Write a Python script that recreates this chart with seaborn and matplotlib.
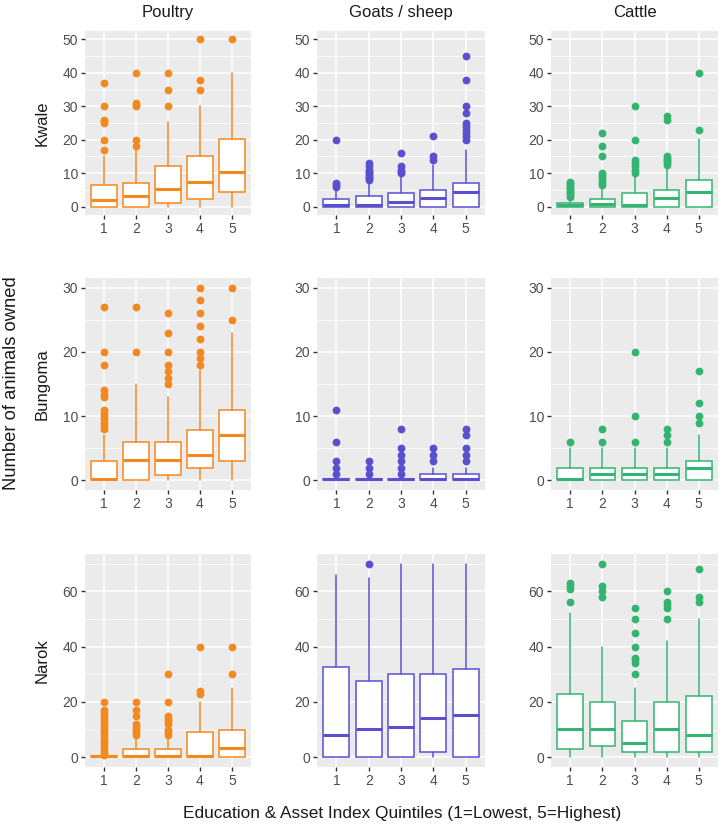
import matplotlib
matplotlib.use("Agg")
import matplotlib.pyplot as plt
import seaborn as sns

# categories
quintiles = [1, 2, 3, 4, 5]
regions = ["Kwale", "Bungoma", "Narok"]
animals = ["Poultry", "Goats / sheep", "Cattle"]
colors = ["#F4891E", "#5A4FCF", "#33B571"]

# box stats per quintile: (whisker low, q1, median, q3, whisker high)
kwale_poultry = [(0, 0, 2.1, 6.4, 15), (0, 0, 3.3, 7.2, 17), (0, 1, 5.4, 12.1, 25.4),
                 (0, 2.2, 7.5, 15.1, 30), (0, 4.4, 10.4, 20.3, 40)]
kwale_poultry_out = [[37, 30, 26, 25.5, 25, 20, 17], [40, 31, 30.5, 30, 20, 18],
                     [40, 35, 30], [50, 38, 35], [50]]
kwale_goats = [(0, 0, 0.4, 2.2, 5), (0, 0, 0.4, 3.2, 7), (0, 0, 1.4, 4, 9),
               (0, 0, 2.5, 5.1, 12.4), (0, 0, 4.5, 7.2, 17)]
kwale_goats_out = [[20, 7, 6.5, 6], [13, 12, 11, 10.5, 10, 9.5, 9, 8.5, 8],
                   [16, 12, 11, 10.5, 10], [21, 15, 14],
                   [45, 38, 30, 28, 25, 24, 23, 22, 21, 20]]
kwale_cattle = [(0, 0, 0.5, 1, 2.4), (0, 0, 0.9, 2.2, 6), (0, 0, 0.5, 4, 9),
                (0, 0, 2.5, 5.1, 11.6), (0, 0, 4.5, 8, 20.3)]
kwale_cattle_out = [[7.5, 7, 6.5, 6, 5.5, 5, 4.5, 4, 3.5, 3],
                    [22, 18, 15, 10, 9.5, 9, 8, 7, 6.5],
                    [30, 20, 14, 13, 12, 11, 10],
                    [27, 26, 15, 14.5, 14, 13.5, 13, 12.5], [40, 23]]

bungoma_poultry = [(0, 0, 0.15, 3, 7), (0, 0, 3.1, 6, 15), (0, 0.9, 3.1, 6, 13),
                   (0, 2, 4, 7.9, 17.2), (0, 3, 7, 10.9, 23)]
bungoma_poultry_out = [[27, 20, 18, 14, 13.5, 13, 11, 10.5, 10, 9.5, 9, 8.5, 8], [27, 20],
                       [26, 23, 20, 18, 17, 16, 15], [30, 28, 26, 24, 22, 20, 19, 18],
                       [30, 25]]
bungoma_goats = [(0, 0, 0.15, 0.15, 0), (0, 0, 0.15, 0.15, 0), (0, 0, 0.15, 0.15, 0),
                 (0, 0, 0.15, 1, 2), (0, 0, 0.15, 1, 2)]
bungoma_goats_out = [[11, 6, 3, 2, 1], [3, 2, 1], [8, 5, 4, 3, 2, 1],
                     [5, 4, 3], [8, 7, 5, 4, 3]]
bungoma_cattle = [(0, 0, 0.15, 2, 5), (0, 0, 1, 2, 5), (0, 0, 1, 2, 5),
                  (0, 0, 1, 2, 5), (0, 0, 2, 3, 7)]
bungoma_cattle_out = [[6], [8, 6], [20, 10, 6], [8, 7, 6], [17, 12, 10, 9]]

narok_poultry = [(0, 0, 0.3, 0.3, 0), (0, 0, 0.5, 3.1, 7.5), (0, 0, 0.5, 3, 7),
                 (0, 0, 0.3, 9, 20), (0, 0, 3.3, 10, 25)]
narok_poultry_out = [[20, 17, 16, 15, 14, 13, 12, 11, 10, 9, 8, 7, 6, 5, 4, 3, 2, 1],
                     [20, 17, 15, 12, 11, 10, 9, 8],
                     [30, 20, 15, 14, 13, 12, 10, 9, 8], [40, 24, 23], [40, 30]]
narok_goats = [(0, 0, 8.2, 32.6, 66), (0, 0, 10.2, 27.6, 65), (0, 0, 11.1, 30, 70),
               (0, 2, 14.1, 30, 70), (0, 0, 15.4, 32, 70)]
narok_goats_out = [[], [70], [], [], []]
narok_cattle = [(0, 2.9, 10.2, 22.9, 52), (0, 4, 10.2, 20, 40), (0, 2, 5.3, 13, 25),
                (0, 2, 10.2, 20, 42), (0, 2, 8.2, 22, 50)]
narok_cattle_out = [[63, 62, 61, 56], [70, 62, 60, 58],
                    [54, 50, 45, 40, 36, 35, 34, 30], [60, 56, 55, 54, 50], [68, 58, 56]]

panels = [[(kwale_poultry, kwale_poultry_out), (kwale_goats, kwale_goats_out),
           (kwale_cattle, kwale_cattle_out)],
          [(bungoma_poultry, bungoma_poultry_out), (bungoma_goats, bungoma_goats_out),
           (bungoma_cattle, bungoma_cattle_out)],
          [(narok_poultry, narok_poultry_out), (narok_goats, narok_goats_out),
           (narok_cattle, narok_cattle_out)]]

row_ticks = [[0, 10, 20, 30, 40, 50], [0, 10, 20, 30], [0, 20, 40, 60]]
row_minor = [[5, 15, 25, 35, 45], [5, 15, 25], [10, 30, 50, 70]]
row_lims = [(-2.5, 52.5), (-1.5, 31.5), (-3.5, 73.5)]

sns.set_theme(style="darkgrid", rc={"axes.facecolor": "#EBEBEB", "grid.color": "white"})
plt.rcParams["font.family"] = ["Liberation Sans", "DejaVu Sans"]

W, H = 725, 830
fig = plt.figure(figsize=(W / 100, H / 100), dpi=100)

col_x = [(85, 251), (317, 485), (551, 718)]
row_y = [(31, 215), (278, 490), (554, 767)]


def draw(ax, box, out, color):
    stats = []
    for (lo, q1, med, q3, hi), fl in zip(box, out):
        stats.append(dict(whislo=lo, q1=q1, med=med, q3=q3, whishi=hi, fliers=fl))
    ax.bxp(stats, positions=quintiles, widths=0.8, showcaps=False, patch_artist=True,
           boxprops=dict(facecolor="white", edgecolor=color, linewidth=1.1),
           medianprops=dict(color=color, linewidth=2.2, solid_capstyle="butt"),
           whiskerprops=dict(color=color, linewidth=1.1),
           flierprops=dict(marker="o", markerfacecolor=color, markeredgecolor=color,
                           markersize=4.6))


for r in range(3):
    for c in range(3):
        x0, x1 = col_x[c]
        y0, y1 = row_y[r]
        ax = fig.add_axes([x0 / W, 1 - y1 / H, (x1 - x0) / W, (y1 - y0) / H])
        box, out = panels[r][c]
        draw(ax, box, out, colors[c])
        ax.set_xlim(0.4, 5.6)
        ax.set_ylim(*row_lims[r])
        ax.set_xticks(quintiles)
        ax.set_xticklabels([str(q) for q in quintiles])
        ax.set_yticks(row_ticks[r])
        ax.set_yticks(row_minor[r], minor=True)
        ax.grid(which="major", color="white", linewidth=1.1)
        ax.grid(which="minor", axis="y", color="white", linewidth=0.55)
        ax.set_axisbelow(True)
        ax.tick_params(which="major", length=3, width=1, color="#333333",
                       labelcolor="#4D4D4D", labelsize=10, pad=2, bottom=True, left=True)
        ax.tick_params(which="minor", length=0)
        for s in ax.spines.values():
            s.set_visible(False)
        if r == 0:
            ax.set_title(animals[c], fontsize=12, color="#1A1A1A", pad=10)
    yc = (row_y[r][0] + row_y[r][1]) / 2
    fig.text(42 / W, 1 - yc / H, regions[r], rotation=90, ha="center", va="center",
             fontsize=12, color="#1A1A1A")

fig.text(12 / W, 1 - 383 / H, "Number of animals owned", rotation=90, ha="center",
         va="center", fontsize=13.2, color="#1A1A1A")
fig.text(402 / W, 1 - 813 / H, "Education & Asset Index Quintiles (1=Lowest, 5=Highest)",
         ha="center", va="center", fontsize=12.4, color="#1A1A1A")

fig.savefig("out.png", dpi=100, facecolor="white")
